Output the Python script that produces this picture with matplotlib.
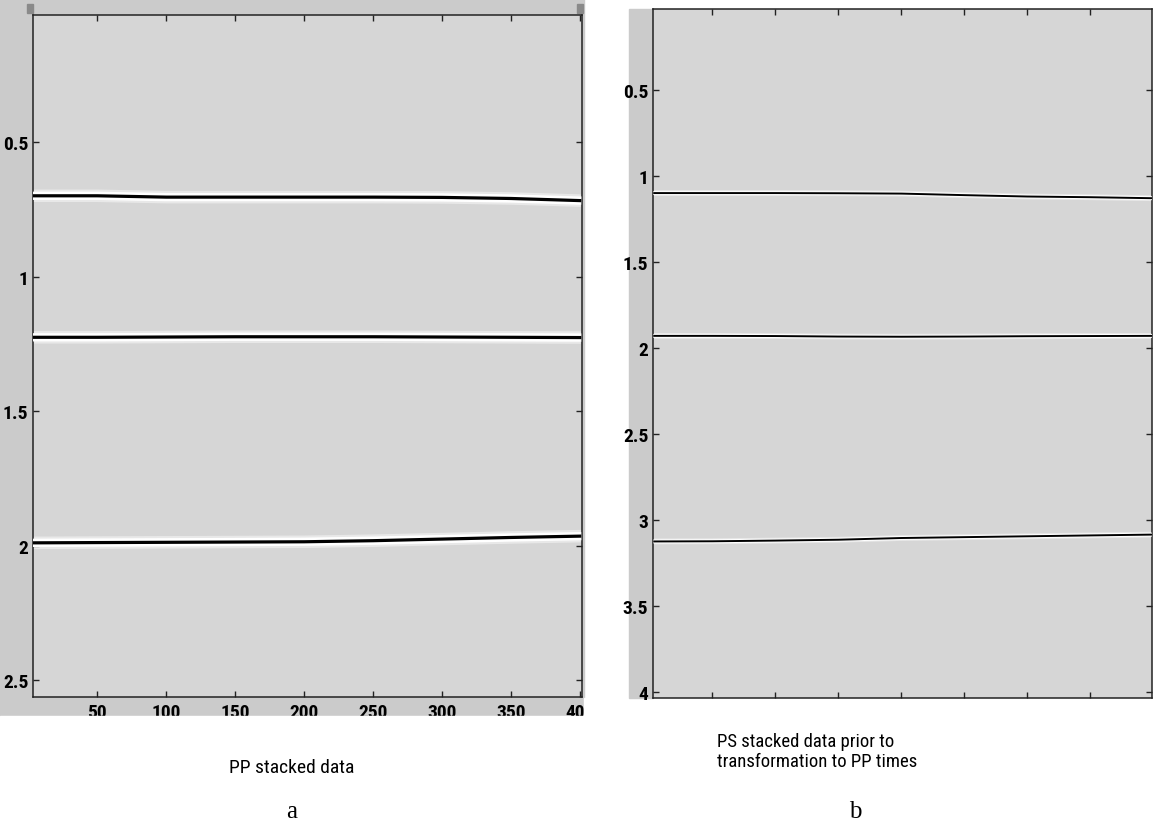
import matplotlib
matplotlib.use("Agg")
import matplotlib.pyplot as plt
from matplotlib.patches import Rectangle
from matplotlib import font_manager

# ---- data -------------------------------------------------------------
# trace positions where horizon times were picked
cdp = [3, 50, 100, 150, 200, 250, 300, 350, 401]

# PP stack: picked two-way times (s)
pp_h1 = [0.700, 0.700, 0.705, 0.705, 0.705, 0.705, 0.706, 0.710, 0.718]
pp_h2 = [1.226, 1.226, 1.225, 1.224, 1.224, 1.224, 1.225, 1.226, 1.227]
pp_h3 = [1.990, 1.989, 1.988, 1.987, 1.986, 1.982, 1.976, 1.970, 1.965]

# PS stack (PS times, before mapping to PP time)
ps_h1 = [1.100, 1.100, 1.100, 1.101, 1.103, 1.112, 1.120, 1.124, 1.130]
ps_h2 = [1.930, 1.930, 1.931, 1.934, 1.935, 1.934, 1.932, 1.931, 1.930]
ps_h3 = [3.125, 3.124, 3.120, 3.115, 3.105, 3.100, 3.095, 3.090, 3.085]

pp_yticks = [0.5, 1, 1.5, 2, 2.5]
pp_ytick_labels = ["0.5", "1", "1.5", "2", "2.5"]
pp_xticks = [50, 100, 150, 200, 250, 300, 350, 400]
pp_xtick_labels = ["50", "100", "150", "200", "250", "300", "350", "400"]

ps_yticks = [0.5, 1, 1.5, 2, 2.5, 3, 3.5, 4]
ps_ytick_labels = ["0.5", "1", "1.5", "2", "2.5", "3", "3.5", "4"]
ps_xticks = [50, 100, 150, 200, 250, 300, 350]

caption_a = "PP stacked data"
caption_b = "PS stacked data prior to\ntransformation to PP times"

# ---- styling ----------------------------------------------------------
W, H = 1154, 829
FACE = "#d6d6d6"
FRAME = "#cbcbcb"


def pick_font(candidates):
    names = {f.name for f in font_manager.fontManager.ttflist}
    for c in candidates:
        if c in names:
            return c
    return "DejaVu Sans"


narrow = pick_font(["Liberation Sans Narrow", "Arial Narrow", "Roboto Condensed",
                    "Open Sans Condensed", "DejaVu Sans"])
tick_fp = dict(family=[narrow, "DejaVu Sans"], weight="bold", stretch="condensed")
cap_fp = dict(family=[narrow, "DejaVu Sans"], stretch="condensed")
serif_font = ["Liberation Serif", "DejaVu Serif"]

fig = plt.figure(figsize=(W / 100, H / 100), dpi=100)
fig.patch.set_facecolor("white")


def px_rect(x0, y0, x1, y1):
    """Axes rectangle from pixel box (top-left origin)."""
    return [x0 / W, 1 - y1 / H, (x1 - x0) / W, (y1 - y0) / H]


def style_axes(ax, xpad=3):
    ax.set_facecolor(FACE)
    for s in ax.spines.values():
        s.set_linewidth(1.1)
        s.set_color("#222222")
    ax.tick_params(direction="in", length=4.5, width=1.0, color="#222222",
                   top=True, right=True, labelsize=14, pad=3)
    ax.tick_params(axis="x", pad=xpad)
    for lab in ax.get_xticklabels() + ax.get_yticklabels():
        lab.set_fontfamily(tick_fp["family"])
        lab.set_fontweight(tick_fp["weight"])
        lab.set_fontstretch(tick_fp["stretch"])
        lab.set_fontsize(14)


def draw_horizon(ax, x, t, core, halo):
    ax.plot(x, t, color="white", lw=halo * 1.5, alpha=0.45,
            solid_capstyle="butt", zorder=2)
    ax.plot(x, t, color="white", lw=halo, alpha=1.0,
            solid_capstyle="butt", zorder=3)
    ax.plot(x, t, color="black", lw=core, solid_capstyle="butt", zorder=4)


# grey frame behind the PP panel, with small marker tabs on top
fig.add_artist(Rectangle((0, 1 - 717 / H), 584 / W, 717 / H,
                         transform=fig.transFigure, color=FRAME, zorder=-2))
for x0 in (27, 577):
    fig.add_artist(Rectangle((x0 / W, 1 - 14 / H), 6 / W, 9 / H,
                             transform=fig.transFigure, color="#8a8a8a",
                             zorder=-1))
# grey strip along the PS panel's time axis
fig.add_artist(Rectangle((629 / W, 1 - 699 / H), 24 / W, 689 / H,
                         transform=fig.transFigure, color=FRAME, zorder=-2))

# ---- (a) PP stack -----------------------------------------------------
ax1 = fig.add_axes(px_rect(32.5, 16, 582, 698))
ax1.set_xlim(3, 401.5)
ax1.set_ylim(2.563, 0.028)
ax1.set_yticks(pp_yticks)
ax1.set_yticklabels(pp_ytick_labels)
ax1.set_xticks(pp_xticks)
ax1.set_xticklabels(pp_xtick_labels)
style_axes(ax1, xpad=4.5)
for h in (pp_h1, pp_h2, pp_h3):
    draw_horizon(ax1, cdp, h, core=2.3, halo=6)

# ---- (b) PS stack -----------------------------------------------------
ax2 = fig.add_axes(px_rect(652.5, 10, 1152, 699))
ax2.set_xlim(2.4, 399)
ax2.set_ylim(4.035, 0.03)
ax2.set_yticks(ps_yticks)
ax2.set_yticklabels(ps_ytick_labels)
ax2.set_xticks(ps_xticks)
ax2.set_xticklabels([])
style_axes(ax2)
for h in (ps_h1, ps_h2, ps_h3):
    draw_horizon(ax2, cdp, h, core=1.4, halo=2.8)

# the PP frame cuts off the trace-number labels below and to the right
fig.add_artist(Rectangle((0, 0), 600 / W, 1 - 717 / H,
                         transform=fig.transFigure, color="white", zorder=10))
fig.add_artist(Rectangle((584 / W, 0), 40 / W, 1 - 699 / H,
                         transform=fig.transFigure, color="white", zorder=10))

# ---- captions ---------------------------------------------------------
fig.text(292 / W, 1 - 768 / H, caption_a, ha="center", va="center",
         fontsize=14, zorder=11, **cap_fp)
fig.text(717 / W, 1 - 752 / H, caption_b, ha="left", va="center",
         fontsize=13.5, linespacing=1.15, zorder=11, **cap_fp)
fig.text(292 / W, 1 - 812 / H, "a", ha="center", va="center",
         fontsize=18, family=serif_font, zorder=11)
fig.text(855 / W, 1 - 812 / H, "b", ha="center", va="center",
         fontsize=18, family=serif_font, zorder=11)

fig.savefig("out.png", dpi=100, facecolor="white")
